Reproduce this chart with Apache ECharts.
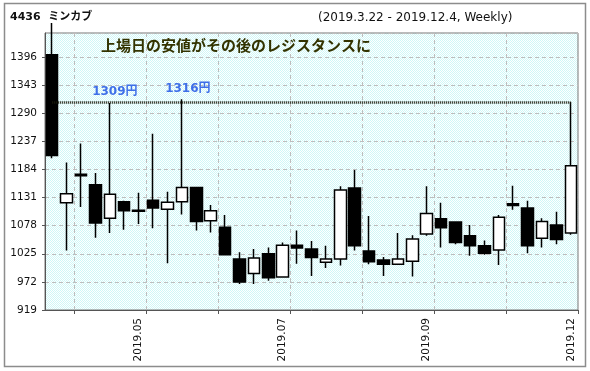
<!DOCTYPE html>
<html><head><meta charset="utf-8">
<script src="https://cdn.jsdelivr.net/npm/echarts@6/dist/echarts.min.js"></script>
<style>html,body{margin:0;padding:0;background:#fff}#c{width:590px;height:371px}</style>
</head><body><div id="c"></div>
<script>
// ---- data (weekly candles) ----
const categories = ["2019.03.22","2019.03.25","2019.04.01","2019.04.08","2019.04.15","2019.04.22","2019.05.07","2019.05.13","2019.05.20","2019.05.27","2019.06.03","2019.06.10","2019.06.17","2019.06.24","2019.07.01","2019.07.08","2019.07.16","2019.07.22","2019.07.29","2019.08.05","2019.08.13","2019.08.19","2019.08.26","2019.09.02","2019.09.09","2019.09.17","2019.09.24","2019.09.30","2019.10.07","2019.10.15","2019.10.21","2019.10.28","2019.11.05","2019.11.11","2019.11.18","2019.11.25","2019.12.02"];
const opens  = [1400,1121,1175,1155,1092,1123,1107,1126,1109,1123,1150,1087,1075,1015, 988,1025, 981,1041,1034,1009,1015,1149,1030,1013,1005,1011,1062,1091,1085,1059,1040,1032,1119,1111,1054,1079,1064];
const closes = [1210,1138,1172,1083,1137,1106,1105,1111,1122,1150,1086,1106,1023, 972,1017, 980,1041,1036,1018,1015,1145,1040,1010,1005,1015,1053,1101,1074,1046,1040,1026,1094,1116,1040,1086,1052,1191];
const lows   = [1205,1031,1113,1055,1064,1070,1081,1073,1007,1099,1069,1065,1023, 968, 968, 974, 980,1006, 983, 998,1003,1031,1005, 983,1005, 982,1059,1037,1043,1021,1023,1004,1108,1026,1037,1043,1061];
const highs  = [1460,1197,1233,1177,1309,1125,1140,1251,1142,1316,1151,1117,1098,1028,1034,1037,1046,1069,1049,1040,1152,1183,1096,1019,1064,1060,1152,1121,1085,1079,1050,1098,1153,1125,1092,1104,1311];
const yMin = 919, yStep = 53, yMax = 1441;
const resistanceLevel = 1310;
const peakNotes = [{index:4, value:1309, text:"1309円"}, {index:9, value:1316, text:"1316円"}];
const titleCode = "4436  ミンカブ";
const periodText = "(2019.3.22 - 2019.12.4, Weekly)";
const noteText = "上場日の安値がその後のレジスタンスに";

const candleData = categories.map((c, i) => [opens[i], closes[i], lows[i], highs[i]]);

// dotted cyan background pattern
const pc = document.createElement('canvas'); pc.width = 2; pc.height = 2;
const g = pc.getContext('2d');
g.fillStyle = '#ffffff'; g.fillRect(0,0,2,2);
g.fillStyle = '#cff7f7'; g.fillRect(0,0,1,1); g.fillRect(1,1,1,1);

const FONT = '"DejaVu Sans", "Noto Sans CJK JP", sans-serif';
const chart = echarts.init(document.getElementById('c'));
chart.setOption({
  animation: false,
  backgroundColor: '#ffffff',
  grid: {left: 45, top: 33, width: 533, height: 277, show: true,
         backgroundColor: {image: pc, repeat: 'repeat'}, borderColor: '#777', borderWidth: 1},
  xAxis: {
    type: 'category', data: categories, boundaryGap: true,
    axisLine: {show: true, lineStyle: {color: '#555', width: 1}},
    axisTick: {show: true, length: 4, interval: (i) => i % 5 === 2, lineStyle: {color: '#555'}},
    axisLabel: {interval: (i) => i % 10 === 6, rotate: 90, formatter: (v) => v.slice(0, 7),
                fontFamily: FONT, fontSize: 10.5, color: '#111', margin: 8, padding: [4, 0, 0, 0]},
    splitLine: {show: true, interval: (i) => i % 5 === 2, lineStyle: {color: '#bdbdbd', type: [4, 3]}}
  },
  yAxis: {
    type: 'value', min: yMin, max: yMax, interval: yStep, scale: true,
    axisLine: {show: true, lineStyle: {color: '#555'}},
    axisTick: {show: true, length: 3, lineStyle: {color: '#555'}},
    axisLabel: {showMaxLabel: false, fontFamily: FONT, fontSize: 10.5, color: '#111', margin: 8,
                formatter: (v) => String(v)},
    splitLine: {show: true, lineStyle: {color: '#bdbdbd', type: [4, 3]}}
  },
  series: [{
    type: 'candlestick', data: candleData, barWidth: 12, clip: true,
    itemStyle: {color: '#ffffff', color0: '#000000', borderColor: '#000000', borderColor0: '#000000', borderWidth: 1.5},
    markLine: {
      silent: true, symbol: ['none', 'none'], label: {show: false},
      lineStyle: {color: '#1a1a0a', width: 2.5, type: [1, 1]},
      data: [[{coord: [0, resistanceLevel]}, {coord: [categories.length - 1, resistanceLevel]}]]
    },
    markPoint: {
      silent: true, symbol: 'circle', symbolSize: 1, itemStyle: {color: 'rgba(0,0,0,0)'},
      label: {show: true, position: 'top', distance: 5, fontFamily: FONT, fontWeight: 'bold', fontSize: 12, color: '#3f6fe8',
              formatter: (p) => p.data.note},
      data: peakNotes.map((p, k) => ({coord: [p.index, p.value], note: p.text, label: {offset: k === 0 ? [5, 0] : [6, 1]}}))
    }
  }],
  graphic: [
    {type: 'rect', silent: true, z: 100, shape: {x: 4.5, y: 3.5, width: 581, height: 363},
     style: {fill: 'none', stroke: '#8c8c8c', lineWidth: 1.5}},
    {type: 'text', silent: true, x: 10, y: 17,
     style: {text: titleCode, font: 'bold 11px ' + FONT, fill: '#111', verticalAlign: 'middle'}},
    {type: 'text', silent: true, x: 318, y: 18,
     style: {text: periodText, font: '12px ' + FONT, fill: '#111', verticalAlign: 'middle'}},
    {type: 'text', silent: true, x: 101, y: 45, z: 50,
     style: {text: noteText, font: 'bold 15px "Noto Sans CJK JP", sans-serif', fill: '#333300', verticalAlign: 'middle'}}
  ]
});
</script></body></html>
